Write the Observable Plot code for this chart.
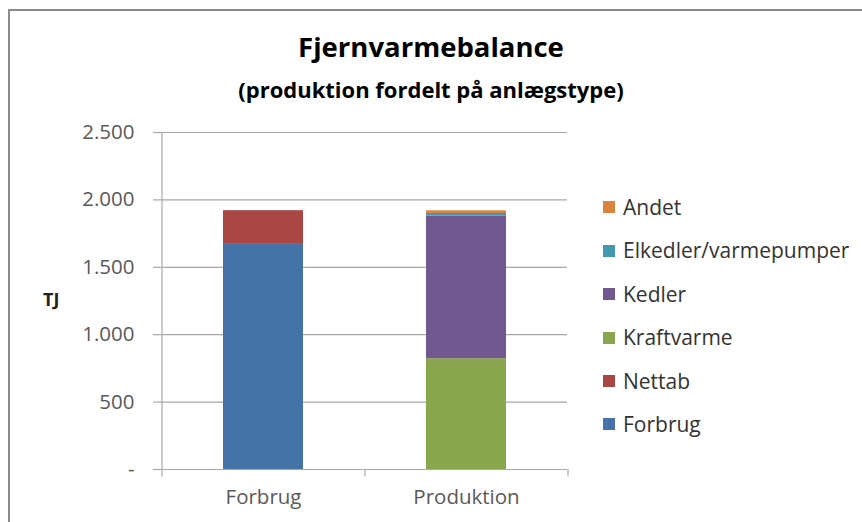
<!DOCTYPE html>
<html>
<head>
<meta charset="utf-8">
<script src="https://cdn.jsdelivr.net/npm/d3@7"></script>
<script src="https://cdn.jsdelivr.net/npm/@observablehq/plot@0.6"></script>
<style>
  html, body { margin: 0; padding: 0; background: #fff; }
  #wrap { position: relative; width: 862px; height: 522px; overflow: hidden; font-family: "Open Sans", sans-serif; }
  #frame { position: absolute; left: 8px; top: 9px; width: 900px; height: 600px; border-left: 2px solid #8c8c8c; border-top: 2px solid #8c8c8c; }
  #title { position: absolute; left: 0; width: 862px; top: 33px; text-align: center; font-weight: bold; font-size: 27.5px; color: #000; line-height: 1; }
  #subtitle { position: absolute; left: 0; width: 862px; top: 78px; text-align: center; font-weight: bold; font-size: 22px; color: #000; line-height: 1; }
  #ylabel { position: absolute; left: 43px; top: 290px; font-weight: bold; font-size: 18px; color: #222; line-height: 1; }
  #plot { position: absolute; left: 0; top: 0; }
  #legend { position: absolute; left: 603px; top: 0; }
  .li { position: absolute; left: 0; white-space: nowrap; font-size: 21px; color: #333; line-height: 1; }
  .sw { display: inline-block; width: 12px; height: 12px; margin-right: 8px; vertical-align: middle; position: relative; top: -2px; }
</style>
</head>
<body>
<div id="wrap">
  <div id="frame"></div>
  <div id="title">Fjernvarmebalance</div>
  <div id="subtitle">(produktion fordelt på anlægstype)</div>
  <div id="ylabel">TJ</div>
  <div id="plot"></div>
  <div id="legend"></div>
</div>
<script>
// Data
const categories = ["Forbrug", "Produktion"];
const series = ["Forbrug", "Nettab", "Kraftvarme", "Kedler", "Elkedler/varmepumper", "Andet"];
const seriesColors = ["#4572A7", "#AA4643", "#89A54E", "#71588F", "#4198AF", "#DB843D"];
const forbrugValues    = [1670, 0];
const nettabValues     = [250, 0];
const kraftvarmeValues = [0, 822];
const kedlerValues     = [0, 1057];
const elkedlerValues   = [0, 20];
const andetValues      = [0, 20];
const yTicks = [0, 500, 1000, 1500, 2000, 2500];
const yTickLabels = ["-", "500", "1.000", "1.500", "2.000", "2.500"];
const legendOrder = ["Andet", "Elkedler/varmepumper", "Kedler", "Kraftvarme", "Nettab", "Forbrug"];

const valueArrays = [forbrugValues, nettabValues, kraftvarmeValues, kedlerValues, elkedlerValues, andetValues];
const rows = [];
series.forEach((s, si) => {
  categories.forEach((c, ci) => {
    rows.push({category: c, series: s, value: valueArrays[si][ci]});
  });
});

const marginLeft = 161, marginRight = 295, marginTop = 132, marginBottom = 53;
const width = 862, height = 522;
const pIn = 0.606, pOut = 0.303;
const step = (width - marginLeft - marginRight) / (categories.length - pIn + 2 * pOut);
const gridColor = "#a8a8a8";

const chart = Plot.plot({
  width, height,
  marginLeft, marginRight, marginTop, marginBottom,
  style: {fontFamily: "Open Sans, sans-serif", fontSize: "20.5px", color: "#595959"},
  x: {domain: categories, paddingInner: pIn, paddingOuter: pOut, label: null},
  y: {domain: [0, 2500], label: null},
  color: {domain: series, range: seriesColors},
  marks: [
    Plot.gridY(yTicks, {stroke: gridColor, strokeOpacity: 1, strokeWidth: 1.2}),
    Plot.axisY(yTicks, {tickSize: 8, tickPadding: 19, stroke: gridColor, strokeWidth: 1.2, fill: "#595959",
      tickFormat: d => yTickLabels[yTicks.indexOf(d)]}),
    Plot.axisX({tickSize: 0, tickPadding: 20, fill: "#595959"}),
    Plot.barY(rows, {x: "category", y: "value", fill: "series", order: series}),
    // y axis line at left edge of the first category band
    Plot.ruleX(categories.slice(0, 1), {x: d => d, dx: -step / 2, y1: 0, y2: 2500, stroke: gridColor, strokeWidth: 1.2}),
    // category boundary tick marks below the baseline
    Plot.ruleX(categories.slice(0, 1), {x: d => d, dx: -step / 2, y1: 0, y2: -55, stroke: gridColor, strokeWidth: 1.2}),
    Plot.ruleX(categories, {x: d => d, dx: step / 2, y1: 0, y2: -55, stroke: gridColor, strokeWidth: 1.2})
  ]
});
document.getElementById("plot").appendChild(chart);

const legend = document.getElementById("legend");
legendOrder.forEach((name, i) => {
  const div = document.createElement("div");
  div.className = "li";
  div.style.top = (197 + i * 43.4) + "px";
  const sw = document.createElement("span");
  sw.className = "sw";
  sw.style.background = seriesColors[series.indexOf(name)];
  div.appendChild(sw);
  div.appendChild(document.createTextNode(name));
  legend.appendChild(div);
});
</script>
</body>
</html>
